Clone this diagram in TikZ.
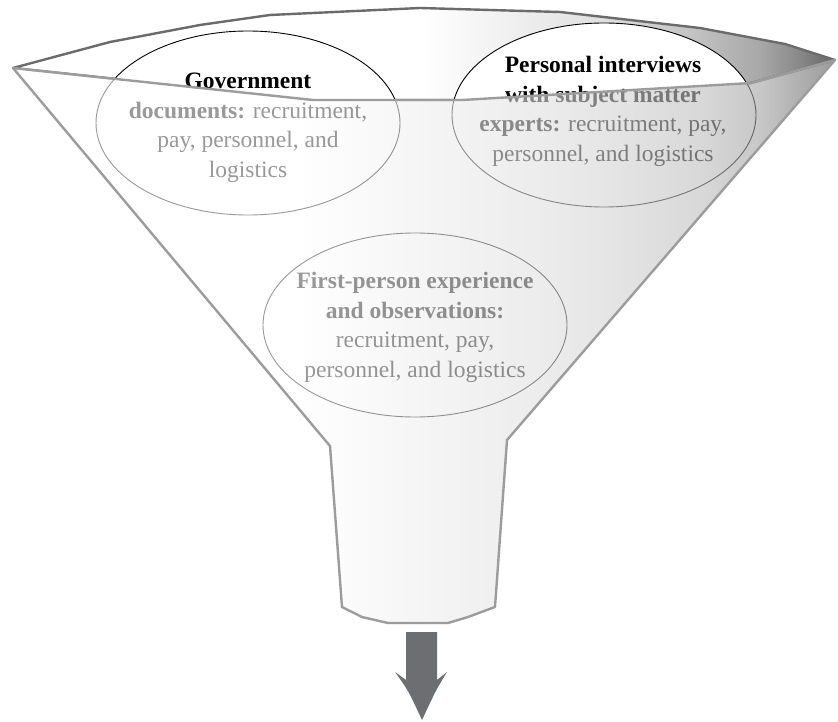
\documentclass[tikz,border=0pt]{standalone}
\usepackage{fontspec}
\setmainfont{Liberation Serif}
\usetikzlibrary{shapes.geometric}
\pgfdeclarehorizontalshading{rimshade}{100bp}{color(0bp)=(white); color(49.75bp)=(white); color(60.7bp)=(black!12); color(66.8bp)=(black!25); color(70.4bp)=(black!34); color(72.9bp)=(black!47); color(75bp)=(black!60); color(100bp)=(black!60)}
\pgfdeclarehorizontalshading{bodyshade}{100bp}{color(0bp)=(white); color(42.5bp)=(white); color(57bp)=(black!12); color(60.7bp)=(black!16); color(66.8bp)=(black!25); color(70.4bp)=(black!36); color(75bp)=(black!65); color(100bp)=(black!65)}
\definecolor{rimline}{HTML}{6B6B6B}
\definecolor{bodyline}{HTML}{9C9C9C}
\definecolor{arrowc}{HTML}{6D6E71}
\tikzset{
  bubble/.style={shape=ellipse, draw=black, fill=white, line width=0.9pt,
    minimum width=304pt, minimum height=184pt, inner sep=0pt},
  txt/.style={align=center, inner sep=0pt, text=black,
    font=\fontsize{23.5}{29.5}\selectfont},
}
\begin{document}
\begin{tikzpicture}[x=1pt,y=-1pt]
\path[use as bounding box, fill=white] (0,0) rectangle (838,722);
\coordinate (L) at (13,68);
\coordinate (R) at (835,60);
\coordinate (lr1) at (313,100);
\coordinate (lr2) at (462,100);
\coordinate (lr3) at (751,83);
% rim
\shadedraw[shading=rimshade, draw=rimline, line width=2.4pt, line join=round]
  (L) -- (110,42) -- (200,25) -- (270,15) -- (420,8) -- (560,12) -- (700,28)
  -- (785,44) -- (R) -- (lr3) -- (lr2) -- (lr1) -- cycle;
% ellipses
\node[bubble] (gov) at (248,123) {};
\node[bubble] (int) at (604,115) {};
\node[bubble] (fp) at (415,325) {};
\node[txt, anchor=north] (govtxt) at (248,73)
  {\textbf{Government}\\\textbf{documents:} recruitment,\\pay, personnel, and\\logistics};
\node[txt, anchor=north] (inttxt) at (603,56)
  {\textbf{Personal interviews}\\\textbf{with subject matter}\\\textbf{experts:} recruitment, pay,\\personnel, and logistics};
\node[txt, anchor=north] (fptxt) at (415,272)
  {\textbf{First-person experience}\\\textbf{and observations:}\\recruitment, pay,\\personnel, and logistics};
% body
\shadedraw[shading=bodyshade, fill opacity=0.6, draw=bodyline, line width=2.4pt, line join=round]
  (L) -- (lr1) -- (lr2) -- (lr3) -- (R) -- (507,440) -- (495,607) -- (468,617)
  -- (448,623) -- (388,623) -- (362,617) -- (342,607) -- (330,446) -- cycle;
% arrow
\fill[arrowc] (406,632) -- (437,632) -- (437,680) -- (447,672)
  .. controls (436,690) .. (422,720) .. controls (408,690) .. (395,672)
  -- (406,680) -- cycle;
\end{tikzpicture}
\end{document}
